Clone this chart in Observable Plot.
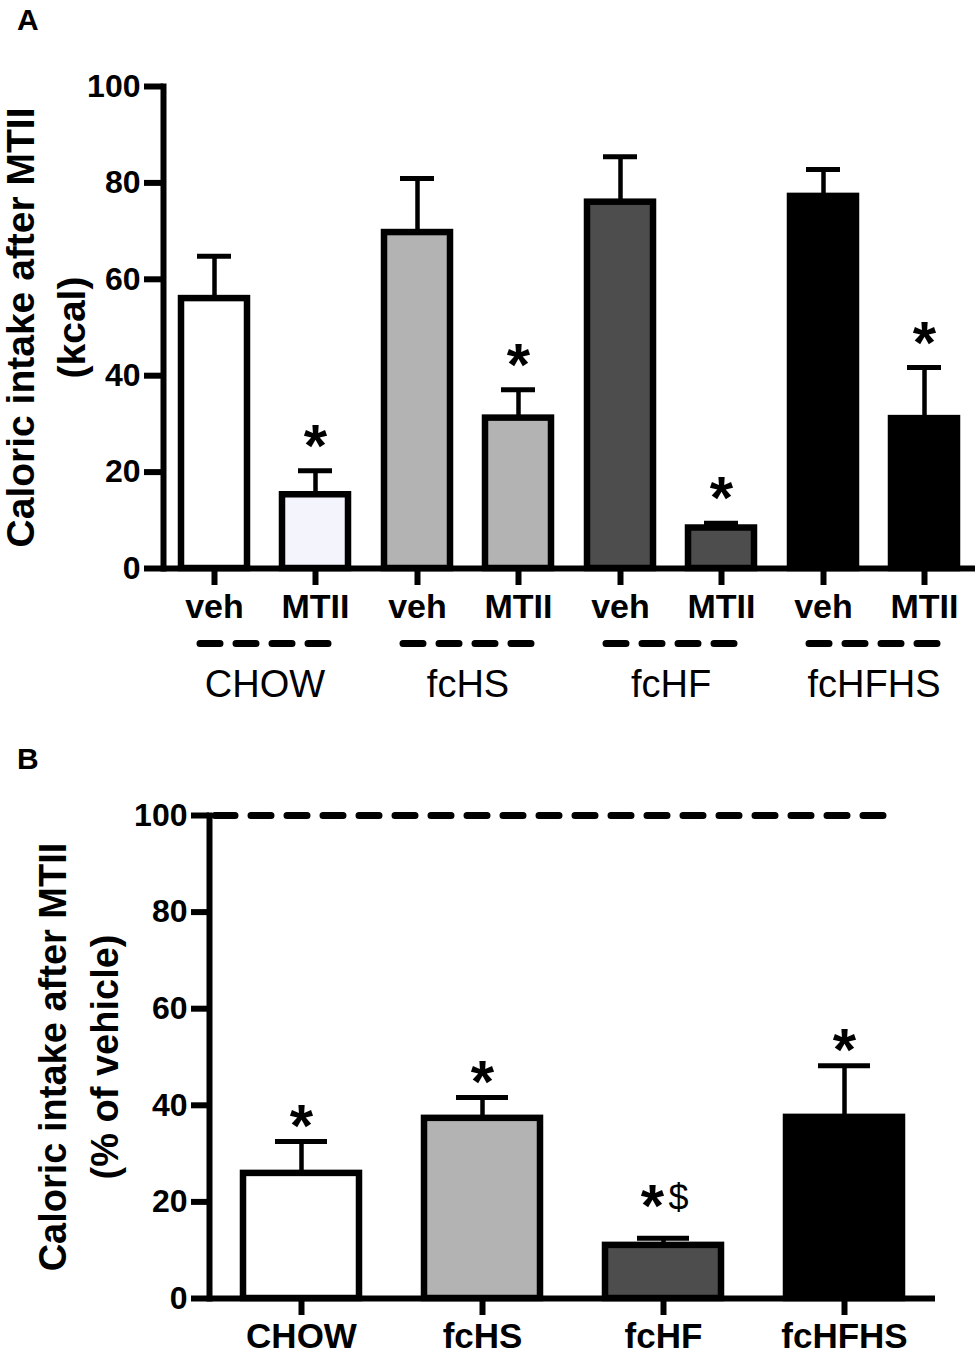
<!DOCTYPE html>
<html><head><meta charset="utf-8">
<script src="https://cdn.jsdelivr.net/npm/d3@7"></script>
<script src="https://cdn.jsdelivr.net/npm/@observablehq/plot@0.6"></script>
<style>
body{margin:0;background:#fff;font-family:"Liberation Sans",Arial,sans-serif;}
#wrap{position:relative;width:975px;height:1354px;background:#fff;overflow:hidden;}
.panel{position:absolute;left:17px;font-weight:bold;font-size:30px;line-height:normal;}
#a,#b{position:absolute;left:0;}
</style></head><body>
<div id="wrap">
<div id="a" style="top:0"></div>
<div id="b" style="top:720px"></div>
<div class="panel" style="top:3px">A</div>
<div class="panel" style="top:742px">B</div>
</div>
<script>
// ---- Panel A data (kcal) ----
const diets = ["CHOW", "fcHS", "fcHF", "fcHFHS"];
const treatments = ["veh", "MTII"];
const vehKcal = [56, 69.7, 76, 77.2];
const vehKcalUpper = [64.8, 80.9, 85.4, 82.8];
const mtiiKcal = [15.3, 31.2, 8.4, 31.1];
const mtiiKcalUpper = [20.3, 37.1, 9.4, 41.7];
const mtiiSignif = ["*", "*", "*", "*"];
const vehFill = ["#ffffff", "#b3b3b3", "#4d4d4d", "#000000"];
const mtiiFill = ["#f4f4fc", "#b3b3b3", "#4d4d4d", "#000000"];
const yTicks = [0, 20, 40, 60, 80, 100];

// ---- Panel B data (% of vehicle) ----
const pctMean = [25.9, 37.3, 11.0, 37.5];
const pctUpper = [32.5, 41.6, 12.5, 48.2];
const pctStar = ["*", "*", "*", "*"];
const pctDollar = ["", "", "$", ""];
const pctFill = ["#ffffff", "#b3b3b3", "#4d4d4d", "#000000"];
const vehicleRef = [100];

const font = "'Liberation Sans', Arial, sans-serif";

const rowsA = diets.flatMap((d, i) => [
  {diet: d, treat: "veh", mean: vehKcal[i], upper: vehKcalUpper[i], fill: vehFill[i], sig: ""},
  {diet: d, treat: "MTII", mean: mtiiKcal[i], upper: mtiiKcalUpper[i], fill: mtiiFill[i], sig: mtiiSignif[i]}
]);

const A = Plot.plot({
  width: 975, height: 720,
  marginTop: 86, marginBottom: 152, marginLeft: 163, marginRight: 0,
  style: {fontFamily: font, background: "white", color: "black", overflow: "visible"},
  fx: {domain: diets, padding: 0},
  x: {domain: treatments, paddingInner: 0.35, paddingOuter: 0.175},
  y: {domain: [0, 100]},
  color: {type: "identity"},
  marks: [
    Plot.ruleX(rowsA, {fx: "diet", x: "treat", y1: "mean", y2: "upper", strokeWidth: 4.5}),
    Plot.tickY(rowsA, {fx: "diet", x: "treat", y: "upper", strokeWidth: 5, insetLeft: 16, insetRight: 16}),
    Plot.barY(rowsA, {fx: "diet", x: "treat", y: "mean", fill: "fill", stroke: "black", strokeWidth: 6.5}),
    Plot.text(rowsA.filter(d => d.sig), {fx: "diet", x: "treat", y: "upper", text: "sig", fontSize: 60, fontWeight: "bold", lineAnchor: "bottom", dy: -5}),
    Plot.ruleY([0], {strokeWidth: 6}),
    Plot.ruleY([0], {dy: 75, strokeWidth: 7, strokeDasharray: "20,16", strokeLinecap: "round", insetLeft: 37, insetRight: 37}),
    Plot.frame({anchor: "left", facetAnchor: "left", strokeWidth: 6}),
    Plot.axisY({ticks: yTicks, tickSize: 19, tickPadding: 4, strokeWidth: 6, fontSize: 32, fontWeight: "bold", label: null}),
    Plot.axisX({tickSize: 17, tickPadding: 8, strokeWidth: 6, fontSize: 34, fontWeight: "bold", label: null}),
    Plot.axisFx({anchor: "bottom", tickSize: 0, tickPadding: 102, fontSize: 38, label: null}),
    Plot.text(["Caloric intake after MTII\n(kcal)"], {text: d => d, frameAnchor: "left", facetAnchor: "left", textAnchor: "middle", rotate: -90, dx: -120, fontSize: 39, fontWeight: "bold", lineHeight: 1.3})
  ]
});
document.getElementById("a").append(A);

const rowsB = diets.map((d, i) => ({diet: d, mean: pctMean[i], upper: pctUpper[i], fill: pctFill[i], star: pctStar[i], dollar: pctDollar[i]}));

const B = Plot.plot({
  width: 975, height: 634,
  marginTop: 95, marginBottom: 56, marginLeft: 209, marginRight: 40,
  style: {fontFamily: font, background: "white", color: "black", overflow: "visible"},
  x: {domain: diets, paddingInner: 0.36, paddingOuter: 0.175},
  y: {domain: [0, 100]},
  color: {type: "identity"},
  marks: [
    Plot.ruleY(vehicleRef, {strokeWidth: 7, strokeDasharray: "20,16", strokeLinecap: "round", insetLeft: 6, insetRight: 50}),
    Plot.ruleX(rowsB, {x: "diet", y1: "mean", y2: "upper", strokeWidth: 4.5}),
    Plot.tickY(rowsB, {x: "diet", y: "upper", strokeWidth: 5, insetLeft: 32, insetRight: 32}),
    Plot.barY(rowsB, {x: "diet", y: "mean", fill: "fill", stroke: "black", strokeWidth: 6.5}),
    Plot.text(rowsB.filter(d => !d.dollar), {x: "diet", y: "upper", text: "star", fontSize: 60, fontWeight: "bold", lineAnchor: "bottom", dy: 4}),
    Plot.text(rowsB.filter(d => d.dollar), {x: "diet", y: "upper", text: "star", fontSize: 60, fontWeight: "bold", lineAnchor: "bottom", dy: -12, dx: -11}),
    Plot.text(rowsB.filter(d => d.dollar), {x: "diet", y: "upper", text: "dollar", fontSize: 36, lineAnchor: "bottom", dy: -28, dx: 15}),
    Plot.ruleY([0], {strokeWidth: 6}),
    Plot.frame({anchor: "left", strokeWidth: 6}),
    Plot.axisY({ticks: yTicks, tickSize: 18, tickPadding: 4, strokeWidth: 6, fontSize: 32, fontWeight: "bold", label: null}),
    Plot.axisX({tickSize: 17, tickPadding: 8, strokeWidth: 6, fontSize: 35, fontWeight: "bold", label: null}),
    Plot.text(["Caloric intake after MTII\n(% of vehicle)"], {text: d => d, frameAnchor: "left", textAnchor: "middle", rotate: -90, dx: -134, fontSize: 38, fontWeight: "bold", lineHeight: 1.37})
  ]
});
document.getElementById("b").append(B);
</script>
</body></html>
